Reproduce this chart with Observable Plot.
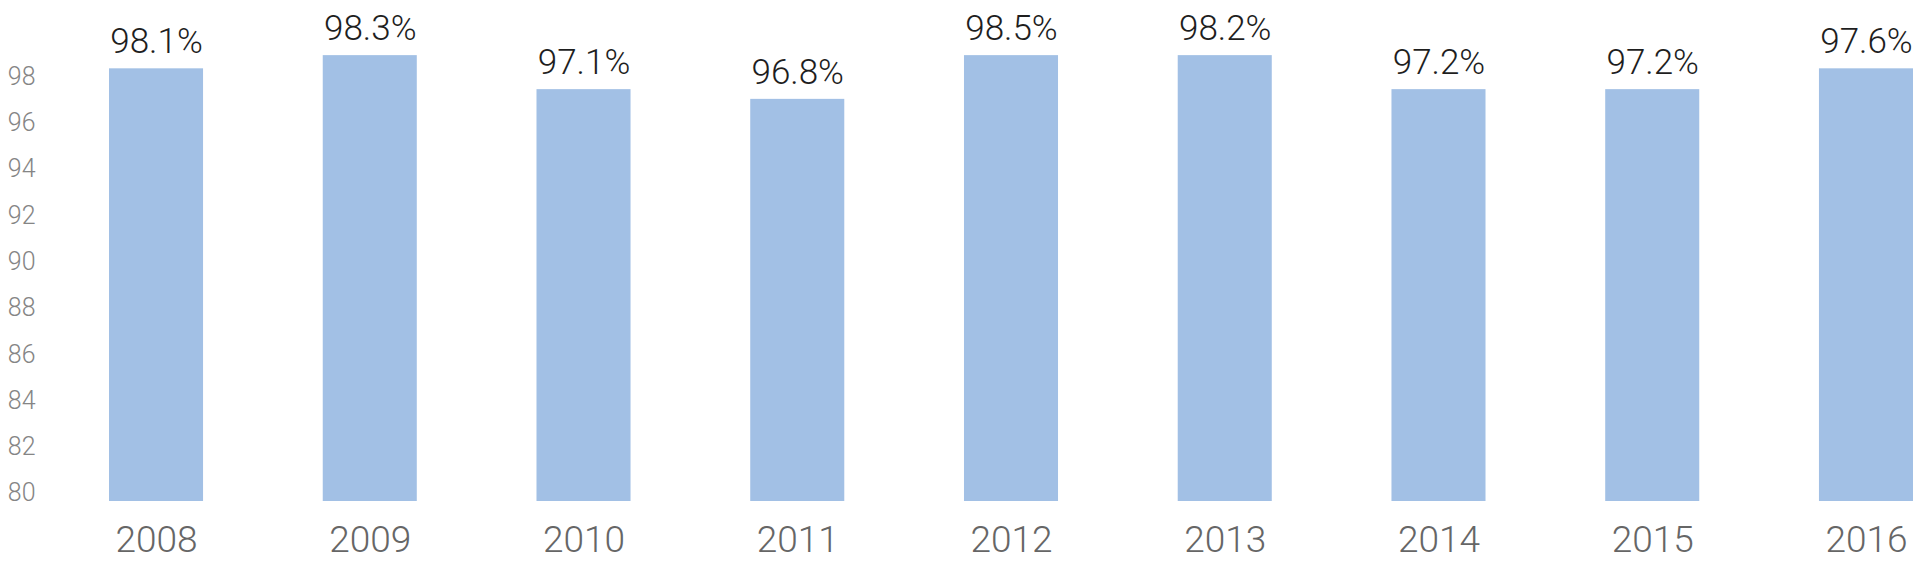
<!DOCTYPE html>
<html>
<head>
<meta charset="utf-8">
<script src="https://cdn.jsdelivr.net/npm/d3@7"></script>
<script src="https://cdn.jsdelivr.net/npm/@observablehq/plot@0.6"></script>
<style>
  html, body { margin: 0; padding: 0; background: #fff; }
  #chart svg { display: block; }
</style>
</head>
<body>
<div id="chart"></div>
<script>
// Categories (years)
const years = ["2008", "2009", "2010", "2011", "2012", "2013", "2014", "2015", "2016"];
// Bar heights
const barValues = [98.35, 98.92, 97.45, 97.03, 98.92, 98.92, 97.45, 97.45, 98.35];
// Value labels printed above the bars
const valueLabels = ["98.1%", "98.3%", "97.1%", "96.8%", "98.5%", "98.2%", "97.2%", "97.2%", "97.6%"];
// Y-axis tick labels
const yTicks = [80, 82, 84, 86, 88, 90, 92, 94, 96, 98];

const data = years.map((y, i) => ({year: y, value: barValues[i], label: valueLabels[i]}));

const fontFamily = "Roboto, 'Open Sans', sans-serif";

const chart = Plot.plot({
  width: 1920,
  height: 562,
  marginLeft: 109,
  marginRight: 7,
  marginTop: 7,
  marginBottom: 61,
  style: {fontFamily, background: "#fff"},
  x: {domain: years, paddingInner: 0.56, paddingOuter: 0, align: 0.5, round: false, label: null},
  y: {domain: [79.65, 101.0], label: null},
  marks: [
    Plot.barY(data, {x: "year", y: "value", fill: "#a2c0e5", clip: true}),
    Plot.text(data, {
      x: "year", y: "value", text: "label",
      lineAnchor: "bottom", dy: -15.5,
      fontSize: 35, fontWeight: 300, fill: "#1e1e1e"
    }),
    Plot.axisX({
      tickSize: 0, tickPadding: 24, fontSize: 37, fontWeight: 300,
      color: "#666", label: null
    }),
    Plot.axisY({
      ticks: yTicks, tickSize: 0, tickPadding: 74, fontSize: 25, fontWeight: 300,
      color: "#858585", label: null
    })
  ]
});

document.getElementById("chart").appendChild(chart);
</script>
</body>
</html>
